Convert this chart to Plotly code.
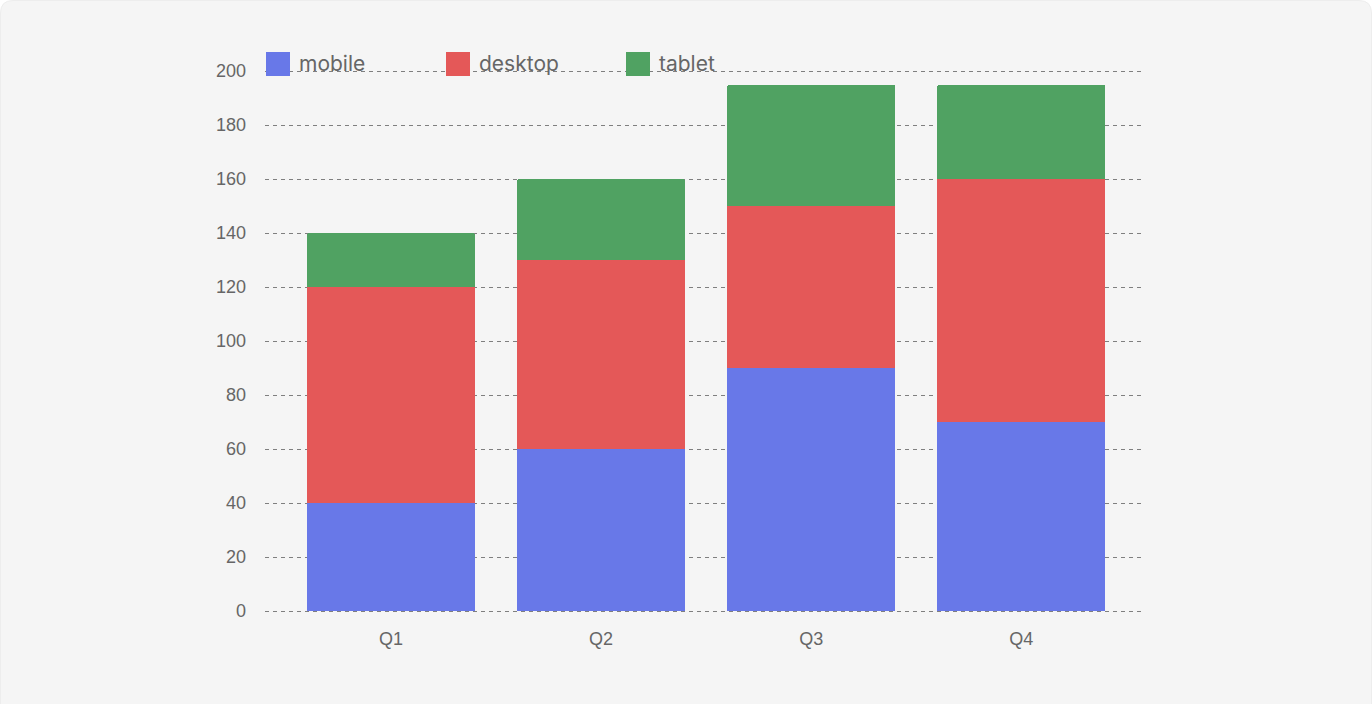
import plotly.graph_objects as go

categories = ["Q1", "Q2", "Q3", "Q4"]
mobile = [40, 60, 90, 70]
desktop = [80, 70, 60, 90]
tablet = [20, 30, 45, 35]
series_names = ["mobile", "desktop", "tablet"]
series_colors = ["#6878e8", "#e45858", "#50a262"]
y_ticks = [0, 20, 40, 60, 80, 100, 120, 140, 160, 180, 200]

W, H = 1372, 704
PAD = 5
ML, MR, MT, MB = 265, 231, 71 - PAD, 93 - PAD
PW, PH = W - ML - MR, H - MT - MB
# y range padded by a few pixels so the 0 and 200 gridlines are drawn
Y0, Y1 = 0 - PAD * 200 / (PH - 2 * PAD), 200 + PAD * 200 / (PH - 2 * PAD)

fig = go.Figure()
for name, vals, col in zip(series_names, [mobile, desktop, tablet], series_colors):
    fig.add_trace(go.Bar(x=categories, y=vals, name=name, marker_color=col,
                         marker_line_width=0, showlegend=False))

def px_x(p):
    return (p - ML) / PW

def px_y(p):
    return 1 - (p - MT) / PH

R = 13
path = (f"M {px_x(0.5)},{px_y(H + 20)} L {px_x(0.5)},{px_y(R)} "
        f"Q {px_x(0.5)},{px_y(0.5)} {px_x(R)},{px_y(0.5)} "
        f"L {px_x(W - R)},{px_y(0.5)} "
        f"Q {px_x(W - 0.5)},{px_y(0.5)} {px_x(W - 0.5)},{px_y(R)} "
        f"L {px_x(W - 0.5)},{px_y(H + 20)} Z")
shapes = [
    dict(type="path", xref="paper", yref="paper", layer="below", path=path,
         line=dict(color="#ededed", width=1), fillcolor="#f5f5f5"),
]
annotations = []
lx = 266
for name, col in zip(series_names, series_colors):
    shapes.append(dict(type="rect", xref="paper", yref="paper", layer="above",
                       x0=px_x(lx), x1=px_x(lx + 24), y0=px_y(76), y1=px_y(52),
                       line=dict(width=0), fillcolor=col))
    annotations.append(dict(text=name, xref="paper", yref="paper", x=px_x(lx + 31), y=px_y(64),
                            xanchor="left", yanchor="middle", showarrow=False,
                            font=dict(family="Inter, sans-serif", size=21, color="#666666")))
    lx += 180

fig.update_layout(
    width=W, height=H,
    margin=dict(l=ML, r=MR, t=MT, b=MB),
    paper_bgcolor="#ffffff", plot_bgcolor="rgba(0,0,0,0)",
    barmode="stack", bargap=0.2, barcornerradius=3,
    font=dict(family="Liberation Sans, Arial, sans-serif", size=18, color="#666666"),
    shapes=shapes, annotations=annotations,
    xaxis=dict(range=[-0.60, 3.57], showgrid=False, zeroline=False, showline=False,
               ticks="", ticklabelstandoff=15 - PAD),
    yaxis=dict(range=[Y0, Y1], tickvals=y_ticks, showgrid=True, gridcolor="#7f7f7f",
               griddash="4px,4px", gridwidth=1, zeroline=False, showline=False,
               ticks="", ticklabelstandoff=18),
)

fig.write_html("out.html")
